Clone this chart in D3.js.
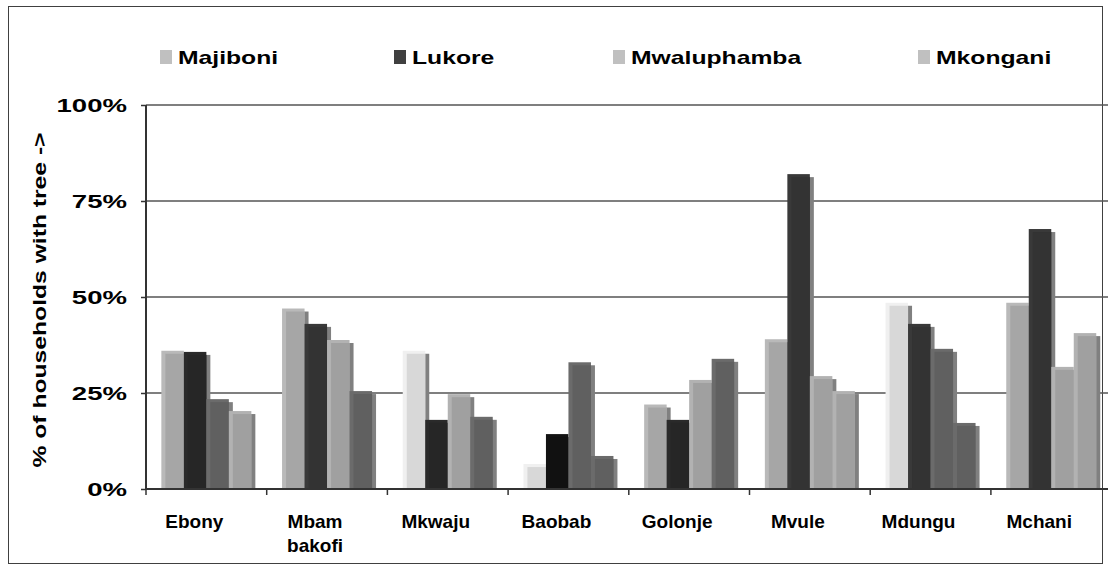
<!DOCTYPE html>
<html>
<head>
<meta charset="utf-8">
<script src="https://cdn.jsdelivr.net/npm/d3@7/dist/d3.min.js"></script>
<style>
  body { margin: 0; background: #fff; }
  text { font-family: "Liberation Sans", Arial, sans-serif; font-weight: bold; fill: #000; }
</style>
</head>
<body>
<div id="chart"></div>
<script>
var categories = ["Ebony", "Mbam bakofi", "Mkwaju", "Baobab", "Golonje", "Mvule", "Mdungu", "Mchani"];
var seriesNames = ["Majiboni", "Lukore", "Mwaluphamba", "Mkongani"];

// % of households with the tree, one array per village
var majiboni    = [36, 47, 36, 6.5, 22, 39, 48.5, 48.5];
var lukore      = [35.7, 43, 18, 14.3, 18, 82, 43, 67.7];
var mwaluphamba = [23.4, 38.8, 24.7, 33, 28.4, 29.4, 36.5, 31.8];
var mkongani    = [20.3, 25.5, 18.8, 8.6, 33.9, 25.5, 17.2, 40.6];

var yTicks = [0, 25, 50, 75, 100];

// greys used for each bar face (the original shades vary bar by bar)
var faceColors = [
  ["#a6a6a6", "#a6a6a6", "#d8d8d8", "#d8d8d8", "#a6a6a6", "#a6a6a6", "#d8d8d8", "#a6a6a6"],
  ["#262626", "#333333", "#262626", "#111111", "#262626", "#333333", "#333333", "#333333"],
  ["#606060", "#a0a0a0", "#a0a0a0", "#606060", "#a0a0a0", "#a0a0a0", "#606060", "#a0a0a0"],
  ["#a0a0a0", "#606060", "#606060", "#606060", "#606060", "#a0a0a0", "#606060", "#a0a0a0"]
];
var legendColors = ["#c0c0c0", "#404040", "#c0c0c0", "#c0c0c0"];

var seriesValues = [majiboni, lukore, mwaluphamba, mkongani];

var W = 1108, H = 568;
var plotLeft = 146, step = 120.7, plotTop = 105, plotBottom = 489;

var svg = d3.select("#chart").append("svg")
    .attr("width", W)
    .attr("height", H);

// outer frame
svg.append("rect")
    .attr("x", 8.5).attr("y", 6.5)
    .attr("width", 1094).attr("height", 557)
    .attr("fill", "none")
    .attr("stroke", "#404040")
    .attr("stroke-width", 1);

var x0 = d3.scaleBand()
    .domain(categories)
    .range([plotLeft, plotLeft + step * categories.length])
    .paddingInner(30.7 / step)
    .paddingOuter(15.35 / step);

var x1 = d3.scaleBand()
    .domain(seriesNames)
    .range([0, x0.bandwidth()]);

var y = d3.scaleLinear()
    .domain([0, 100])
    .range([plotBottom, plotTop]);

// gridlines
svg.append("g")
  .selectAll("line")
  .data(yTicks.slice(1))
  .enter().append("line")
    .attr("x1", plotLeft).attr("x2", W)
    .attr("y1", function(d) { return y(d); })
    .attr("y2", function(d) { return y(d); })
    .attr("stroke", "#555")
    .attr("stroke-width", 1.6);

// bars: a lighter back edge, a grey shadow to the right, then the face
var rows = [];
categories.forEach(function(c, i) {
  seriesNames.forEach(function(s, j) {
    rows.push({cat: c, series: s, value: seriesValues[j][i], color: faceColors[j][i]});
  });
});

var bars = svg.append("g")
  .selectAll("g")
  .data(rows)
  .enter().append("g")
    .attr("transform", function(d) { return "translate(" + (x0(d.cat) + x1(d.series)) + ",0)"; });

var bw = x1.bandwidth();

bars.append("rect")
    .attr("x", 4)
    .attr("y", function(d) { return y(d.value) + 3; })
    .attr("width", bw)
    .attr("height", function(d) { return plotBottom - y(d.value) - 3; })
    .attr("fill", "#808080");

bars.append("rect")
    .attr("x", 0)
    .attr("y", function(d) { return y(d.value); })
    .attr("width", bw)
    .attr("height", function(d) { return plotBottom - y(d.value); })
    .attr("fill", function(d) { return d3.color(d.color).brighter(0.3); });

bars.append("rect")
    .attr("x", 4)
    .attr("y", function(d) { return y(d.value) + 3; })
    .attr("width", bw - 4)
    .attr("height", function(d) { return plotBottom - y(d.value) - 3; })
    .attr("fill", function(d) { return d.color; });

// y axis
var yAxis = svg.append("g")
    .attr("transform", "translate(" + plotLeft + ",0)")
    .call(d3.axisLeft(y).tickValues(yTicks).tickSize(5).tickFormat(""));
yAxis.select(".domain").attr("stroke", "#333").attr("stroke-width", 2).attr("d", "M0," + plotTop + "V" + plotBottom);
yAxis.selectAll(".tick line").attr("stroke", "#333").attr("stroke-width", 1.5);

svg.append("g")
  .selectAll("text")
  .data(yTicks)
  .enter().append("text")
    .attr("x", 127)
    .attr("y", function(d) { return y(d) + 7; })
    .attr("text-anchor", "end")
    .style("font-size", "19px")
    .text(function(d) { return d + "%"; })
    .each(function() {
      var w = this.getComputedTextLength();
      d3.select(this).attr("textLength", w * 1.45).attr("lengthAdjust", "spacingAndGlyphs");
    });

// x axis: baseline and ticks on category boundaries
var xAxis = svg.append("g")
    .attr("transform", "translate(0," + plotBottom + ")");
xAxis.append("line")
    .attr("x1", plotLeft).attr("x2", W)
    .attr("stroke", "#333").attr("stroke-width", 2);
xAxis.selectAll(".sep")
  .data(categories)
  .enter().append("line")
    .attr("class", "sep")
    .attr("x1", function(d) { return x0(d) - 15.35; })
    .attr("x2", function(d) { return x0(d) - 15.35; })
    .attr("y1", 0).attr("y2", 6)
    .attr("stroke", "#333").attr("stroke-width", 1.5);

// category labels (split on space)
var labels = svg.append("g")
  .selectAll("text")
  .data(categories)
  .enter().append("text")
    .attr("x", function(d) { return x0(d) + x0.bandwidth() / 2 - 12; })
    .attr("y", 528)
    .attr("text-anchor", "middle")
    .style("font-size", "19px");
labels.each(function(d) {
  var t = d3.select(this);
  d.split(" ").forEach(function(word, k) {
    t.append("tspan")
      .attr("x", t.attr("x"))
      .attr("dy", k === 0 ? 0 : 24)
      .text(word);
  });
});

// y title
svg.append("text")
    .attr("transform", "translate(46,300) rotate(-90)")
    .attr("text-anchor", "middle")
    .style("font-size", "19px")
    .attr("textLength", 335)
    .attr("lengthAdjust", "spacingAndGlyphs")
    .text("% of households with tree ->");

// legend
var legendX = [160, 394, 613, 918];
var legend = svg.append("g")
  .selectAll("g")
  .data(seriesNames)
  .enter().append("g")
    .attr("transform", function(d, i) { return "translate(" + legendX[i] + ",50)"; });
legend.append("rect")
    .attr("width", 12).attr("height", 14)
    .attr("fill", function(d, i) { return legendColors[i]; });
legend.append("text")
    .attr("x", 18)
    .attr("y", 14)
    .style("font-size", "19px")
    .text(function(d) { return d; })
    .each(function() {
      var w = this.getComputedTextLength();
      d3.select(this).attr("textLength", w * 1.3).attr("lengthAdjust", "spacingAndGlyphs");
    });
</script>
</body>
</html>
